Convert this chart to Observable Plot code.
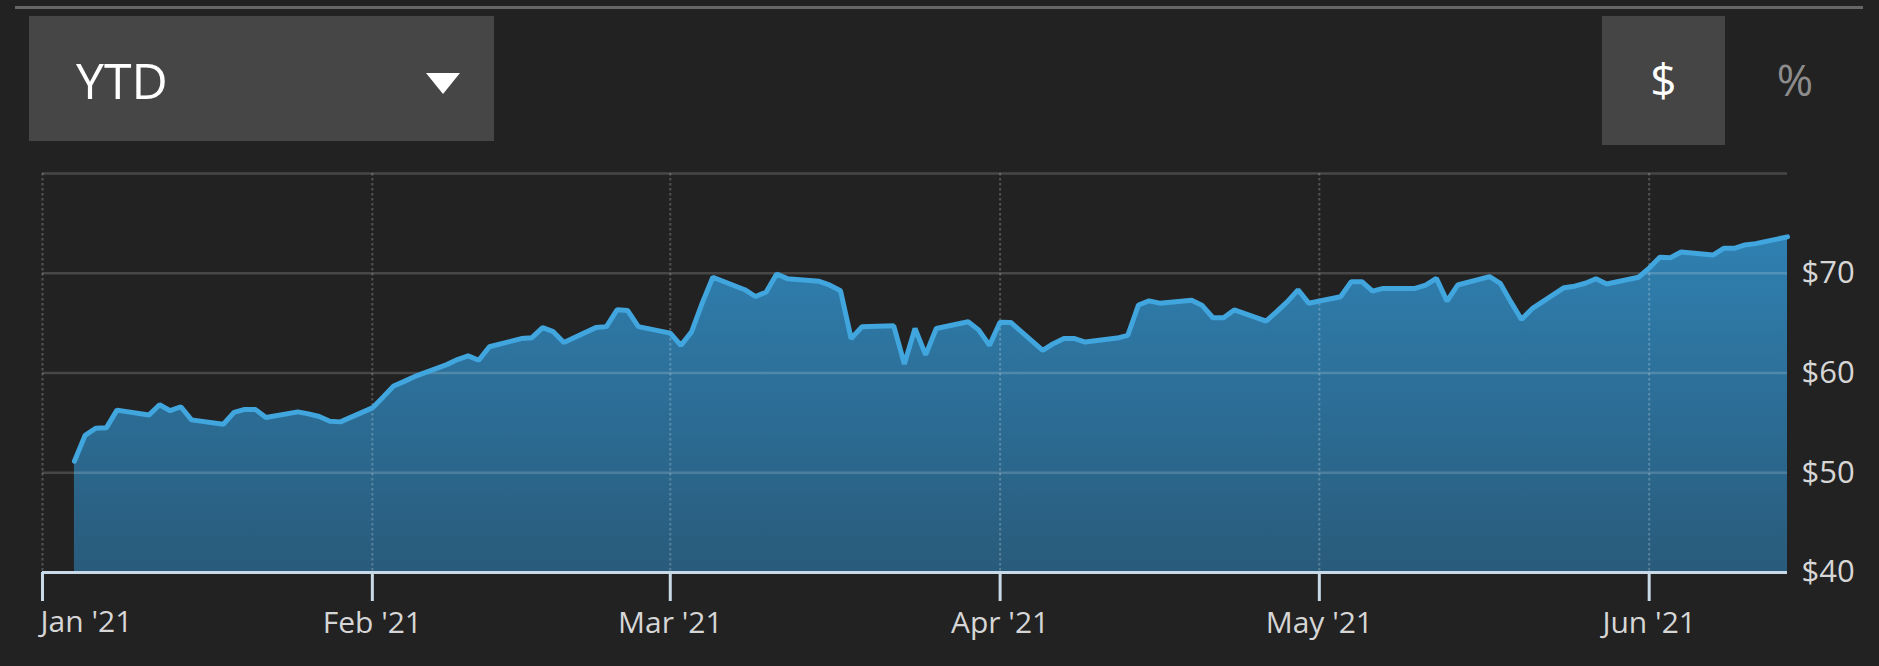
<!DOCTYPE html>
<html>
<head>
<meta charset="utf-8">
<script src="https://cdn.jsdelivr.net/npm/d3@7"></script>
<script src="https://cdn.jsdelivr.net/npm/@observablehq/plot@0.6"></script>
<style>
  html, body { margin: 0; padding: 0; background: #222222; }
  body { width: 1879px; height: 666px; position: relative; overflow: hidden; font-family: "Open Sans", sans-serif; }
  #topline { position: absolute; left: 15px; top: 6px; width: 1848px; height: 3px; background: #666666; }
  #range { position: absolute; left: 29px; top: 16px; width: 465px; height: 125px; background: #464646; }
  #range .label { position: absolute; left: 47px; top: 0; line-height: 128px; font-size: 50px; color: #ffffff; }
  #range .tri { position: absolute; left: 397px; top: 57px; width: 0; height: 0;
    border-left: 17.5px solid transparent; border-right: 17.5px solid transparent; border-top: 21px solid #ffffff; }
  #dollar { position: absolute; left: 1602px; top: 16px; width: 123px; height: 129px; background: #454545;
    color: #ffffff; font-size: 46px; line-height: 126px; text-align: center; }
  #pct { position: absolute; left: 1765px; top: 16px; width: 60px; height: 129px;
    color: #8c8c8c; font-size: 44px; line-height: 126px; text-align: center; }
  #chart { position: absolute; left: 0; top: 150px; }
</style>
</head>
<body>
<div id="topline"></div>
<div id="range"><span class="label">YTD</span><span class="tri"></span></div>
<div id="dollar">$</div>
<div id="pct">%</div>
<div id="chart"></div>
<script>
// ---- data ----
const dates = [
  "2021-01-04","2021-01-05","2021-01-06","2021-01-07","2021-01-08",
  "2021-01-11","2021-01-12","2021-01-13","2021-01-14","2021-01-15",
  "2021-01-18","2021-01-19","2021-01-20","2021-01-21","2021-01-22",
  "2021-01-25","2021-01-26","2021-01-27","2021-01-28","2021-01-29",
  "2021-02-01","2021-02-02","2021-02-03","2021-02-04","2021-02-05",
  "2021-02-08","2021-02-09","2021-02-10","2021-02-11","2021-02-12",
  "2021-02-15","2021-02-16","2021-02-17","2021-02-18","2021-02-19",
  "2021-02-22","2021-02-23","2021-02-24","2021-02-25","2021-02-26",
  "2021-03-01","2021-03-02","2021-03-03","2021-03-04","2021-03-05",
  "2021-03-08","2021-03-09","2021-03-10","2021-03-11","2021-03-12",
  "2021-03-15","2021-03-16","2021-03-17","2021-03-18","2021-03-19",
  "2021-03-22","2021-03-23","2021-03-24","2021-03-25","2021-03-26",
  "2021-03-29","2021-03-30","2021-03-31","2021-04-01","2021-04-02",
  "2021-04-05","2021-04-06","2021-04-07","2021-04-08","2021-04-09",
  "2021-04-12","2021-04-13","2021-04-14","2021-04-15","2021-04-16",
  "2021-04-19","2021-04-20","2021-04-21","2021-04-22","2021-04-23",
  "2021-04-26","2021-04-27","2021-04-28","2021-04-29","2021-04-30",
  "2021-05-03","2021-05-04","2021-05-05","2021-05-06","2021-05-07",
  "2021-05-10","2021-05-11","2021-05-12","2021-05-13","2021-05-14",
  "2021-05-17","2021-05-18","2021-05-19","2021-05-20","2021-05-21",
  "2021-05-24","2021-05-25","2021-05-26","2021-05-27","2021-05-28",
  "2021-05-31","2021-06-01","2021-06-02","2021-06-03","2021-06-04",
  "2021-06-07","2021-06-08","2021-06-09","2021-06-10","2021-06-11",
  "2021-06-14"
];
const prices = [
  51.15, 53.75, 54.46, 54.50, 56.28,
  55.78, 56.82, 56.22, 56.62, 55.30,
  54.86, 56.05, 56.35, 56.35, 55.54,
  56.10, 55.90, 55.64, 55.17, 55.10,
  56.50, 57.58, 58.69, 59.16, 59.66,
  60.84, 61.35, 61.72, 61.28, 62.63,
  63.45, 63.54, 64.55, 64.14, 63.06,
  64.55, 64.65, 66.33, 66.26, 64.65,
  64.00, 62.77, 64.12, 67.00, 69.60,
  68.35, 67.67, 68.10, 69.93, 69.46,
  69.19, 68.80, 68.24, 63.45, 64.63,
  64.73, 60.90, 64.46, 61.82, 64.46,
  65.14, 64.30, 62.77, 65.10, 65.07,
  62.26, 62.94, 63.45, 63.45, 63.10,
  63.50, 63.78, 66.82, 67.23, 67.00,
  67.30, 66.76, 65.54, 65.54, 66.32,
  65.20, 66.15, 67.16, 68.34, 67.00,
  67.64, 69.16, 69.16, 68.21, 68.48,
  68.48, 68.82, 69.49, 67.20, 68.82,
  69.66, 68.99, 67.13, 65.37, 66.45,
  68.55, 68.70, 69.00, 69.45, 68.92,
  69.60, 70.52, 71.60, 71.55, 72.13,
  71.82, 72.50, 72.50, 72.84, 72.97,
  73.65
];
const monthTicks = ["2021-01-01","2021-02-01","2021-03-01","2021-04-01","2021-05-01","2021-06-01"];
const monthLabels = ["Jan '21","Feb '21","Mar '21","Apr '21","May '21","Jun '21"];
const yTicks = [40, 50, 60, 70];
const yGrid = [50, 60, 70, 80];
const xDomain = ["2021-01-01", "2021-06-14"];
const yDomain = [40, 80];

const data = dates.map((d, i) => ({date: new Date(d), price: prices[i]}));
const months = monthTicks.map(d => new Date(d));
const labelOf = new Map(months.map((d, i) => [+d, monthLabels[i]]));

const lineColor = "#41a5de";
const axisColor = "#c8d9e7";
const textColor = "#d6d6d6";

const chart = Plot.plot({
  width: 1879,
  height: 516,
  marginLeft: 42,
  marginRight: 92,
  marginTop: 23,
  marginBottom: 94,
  style: {background: "transparent", fontFamily: "'Open Sans', sans-serif", fontSize: "30px", color: textColor},
  x: {type: "utc", domain: xDomain.map(d => new Date(d)), axis: null},
  y: {domain: yDomain, axis: null},
  marks: [
    Plot.areaY(data, {x: "date", y1: yDomain[0], y2: "price", fill: "url(#areaGrad)", curve: "linear"}),
    Plot.ruleY(yGrid, {stroke: "#ffffff", strokeOpacity: 0.17, strokeWidth: 2.5}),
    Plot.ruleX(months, {x: d => d, stroke: "#ffffff", strokeOpacity: 0.22, strokeWidth: 2, strokeDasharray: "2.5,2.5"}),
    Plot.line(data, {x: "date", y: "price", stroke: lineColor, strokeWidth: 5, strokeLinejoin: "miter", curve: "linear"}),
    Plot.ruleY([yDomain[0]], {stroke: axisColor, strokeWidth: 3}),
    Plot.axisX({ticks: months, tickSize: 29, tickPadding: 10, stroke: axisColor, strokeWidth: 3, label: null,
      tickFormat: d => (+d === +months[0] ? "" : labelOf.get(+d)), fill: textColor, fontSize: 30}),
    Plot.text([months[0]], {x: d => d, y: yDomain[0], text: d => labelOf.get(+d), textAnchor: "start", dy: 50, dx: -2, fill: textColor, fontSize: 30}),
    Plot.axisY({anchor: "right", ticks: yTicks, tickSize: 0, tickPadding: 14, textAnchor: "start", label: null,
      tickFormat: d => "$" + d, fill: textColor, fontSize: 31})
  ]
});

// gradient definition for the area fill
const ns = "http://www.w3.org/2000/svg";
const defs = document.createElementNS(ns, "defs");
const grad = document.createElementNS(ns, "linearGradient");
grad.setAttribute("id", "areaGrad");
grad.setAttribute("x1", "0"); grad.setAttribute("y1", "0");
grad.setAttribute("x2", "0"); grad.setAttribute("y2", "1");
[["0%", "#2f80b1"], ["100%", "#295b7b"]].forEach(([o, c]) => {
  const s = document.createElementNS(ns, "stop");
  s.setAttribute("offset", o); s.setAttribute("stop-color", c);
  grad.appendChild(s);
});
defs.appendChild(grad);
chart.insertBefore(defs, chart.firstChild);

document.getElementById("chart").appendChild(chart);
</script>
</body>
</html>
